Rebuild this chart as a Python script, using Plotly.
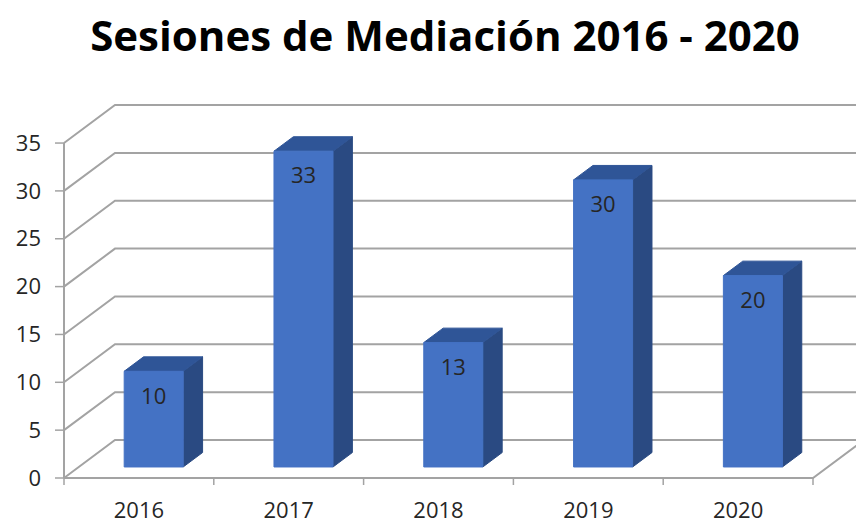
import plotly.graph_objects as go

# ---- data ----
years = ["2016", "2017", "2018", "2019", "2020"]
sesiones = [10, 33, 13, 30, 20]
y_tick_vals = [0, 5, 10, 15, 20, 25, 30, 35]
title_text = "Sesiones de Mediación 2016 - 2020"

# ---- geometry of the oblique (pseudo 3-D) projection ----
W, H = 856, 524
PX_X = 149.8          # pixels per category on the front plane
PX_Y = 9.57           # pixels per value unit
ORIGIN_PX = (64, 478) # pixel of (x=0, value=0) on the front plane
DEPTH_PX = (51, 38)   # offset of the back wall
DX = DEPTH_PX[0] / PX_X
DY = DEPTH_PX[1] / PX_Y
BAR_W = 0.394
BAR_F0, BAR_F1 = 0.29, 0.67   # depth fractions of bar front/back faces
LABEL_DROP = 2.8
L, R, T, B = 46, 0, 98, 36

x_range = [(L - ORIGIN_PX[0]) / PX_X, (W - R - ORIGIN_PX[0]) / PX_X]
y_range = [(ORIGIN_PX[1] - (H - B)) / PX_Y, (ORIGIN_PX[1] - T) / PX_Y]

GRID = "#a3a3a3"
FRONT = "#4472C4"
TOP = "#2F5597"
SIDE = "#2A4A82"
TXT = "#262626"

n = len(years)
ymax = y_tick_vals[-1]

gx, gy = [], []
def seg(pts, xs, ys):
    for px, py in pts:
        xs.append(px)
        ys.append(py)
    xs.append(None)
    ys.append(None)

for v in y_tick_vals:
    seg([(0, v), (DX, v + DY), (n + DX, v + DY)], gx, gy)
seg([(0, 0), (n, 0), (n + DX, DY)], gx, gy)
seg([(0, 0), (0, ymax)], gx, gy)

tx, ty = [], []
for v in y_tick_vals:
    seg([(-9 / PX_X, v), (0, v)], tx, ty)
for i in range(n + 1):
    seg([(i, 0), (i, -7 / PX_Y)], tx, ty)

fig = go.Figure()
fig.add_trace(go.Scatter(x=gx, y=gy, mode="lines", line=dict(color=GRID, width=2),
                         hoverinfo="skip", showlegend=False))
fig.add_trace(go.Scatter(x=tx, y=ty, mode="lines", line=dict(color=GRID, width=1.5),
                         hoverinfo="skip", showlegend=False))

lab_x, lab_y = [], []
bdx = (BAR_F1 - BAR_F0) * DX
bdy = (BAR_F1 - BAR_F0) * DY
for i, v in enumerate(sesiones):
    c = i + 0.5 + BAR_F0 * DX
    xl, xr = c - BAR_W / 2, c + BAR_W / 2
    y0 = BAR_F0 * DY
    y1 = v + y0
    faces = [
        ([xr, xr, xr + bdx, xr + bdx, xr], [y0, y1, y1 + bdy, y0 + bdy, y0], SIDE),
        ([xl, xr, xr + bdx, xl + bdx, xl], [y1, y1, y1 + bdy, y1 + bdy, y1], TOP),
        ([xl, xr, xr, xl, xl], [y0, y0, y1, y1, y0], FRONT),
    ]
    for fx, fy, col in faces:
        fig.add_trace(go.Scatter(x=fx, y=fy, mode="lines", fill="toself",
                                 fillcolor=col, line=dict(color=col, width=1),
                                 hoverinfo="skip", showlegend=False))
    lab_x.append(c)
    lab_y.append(y1 - LABEL_DROP)

fig.add_trace(go.Scatter(x=lab_x, y=lab_y, mode="text",
                         text=[str(v) for v in sesiones],
                         textposition="middle center",
                         textfont=dict(family="Open Sans", size=22, color=TXT),
                         hoverinfo="skip", showlegend=False))

fig.update_layout(
    width=W, height=H, autosize=False,
    margin=dict(l=L, r=R, t=T, b=B, pad=0),
    paper_bgcolor="white", plot_bgcolor="white",
    title=dict(text=title_text, x=445 / W, xanchor="center",
               y=1 - 36 / H, yanchor="middle", xref="container", yref="container",
               font=dict(family="Open Sans", size=42, color="black", weight="bold")),
    xaxis=dict(range=x_range, showgrid=False, zeroline=False, showline=False,
               tickmode="array", tickvals=[i + 0.5 for i in range(n)], ticktext=years,
               ticks="", ticklabelstandoff=7, automargin=False, fixedrange=True,
               tickfont=dict(family="Open Sans", size=22, color=TXT)),
    yaxis=dict(range=y_range, showgrid=False, zeroline=False, showline=False,
               tickmode="array", tickvals=y_tick_vals,
               ticktext=[str(v) for v in y_tick_vals],
               ticks="", ticklabelstandoff=4, automargin=False, fixedrange=True,
               tickfont=dict(family="Open Sans", size=22, color=TXT)),
    showlegend=False,
)

fig.write_html("out.html", config={"displayModeBar": False},
               post_script="document.body.style.margin='0px';")
